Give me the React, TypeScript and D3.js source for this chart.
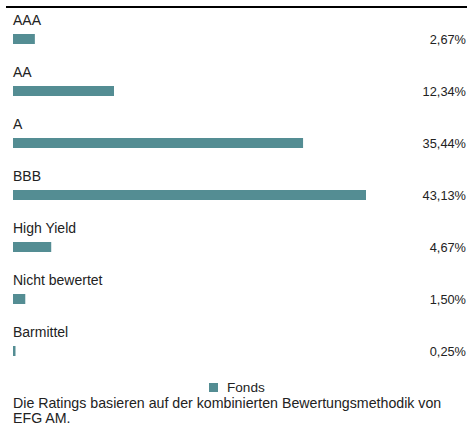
import React from "react";
import * as d3 from "d3";

const categories = ["AAA", "AA", "A", "BBB", "High Yield", "Nicht bewertet", "Barmittel"];
const values = [2.67, 12.34, 35.44, 43.13, 4.67, 1.5, 0.25];
const valueLabels = ["2,67%", "12,34%", "35,44%", "43,13%", "4,67%", "1,50%", "0,25%"];
const seriesName = "Fonds";
const footnote = ["Die Ratings basieren auf der kombinierten Bewertungsmethodik von", "EFG AM."];

const W = 468;
const H = 426;
const COLOR = "#548d93";
const FONT = "'Liberation Sans', Arial, Helvetica, sans-serif";
const TEXT = "#222";

export default function App() {
  const x = d3.scaleLinear().domain([0, 43.13]).range([13, 366]);
  const y = d3.scaleBand<string>().domain(categories).range([34 - 26, 34 - 26 + 52 * categories.length]);
  const barH = 10;
  return (
    <svg width={W} height={H} style={{ position: "absolute", left: 0, top: 0, background: "#fff" }} fontFamily={FONT}>
      <line x1={6} x2={467} y1={7} y2={7} stroke="#000" strokeWidth={2} />
      {categories.map((c, i) => {
        const top = (y(c) as number) + 26;
        const w = Math.max(x(values[i]) - x(0), 2.5);
        return (
          <g key={c}>
            <text x={13} y={top - 9} fontSize={14} fill={TEXT}>{c}</text>
            <rect x={x(0)} y={top} width={w} height={barH} fill={COLOR} />
            <text x={466} y={top + 9.5} fontSize={12.8} fill={TEXT} textAnchor="end">{valueLabels[i]}</text>
          </g>
        );
      })}
      <rect x={209} y={383} width={9} height={9} fill={COLOR} />
      <text x={227} y={392} fontSize={13.6} fill={TEXT}>{seriesName}</text>
      {footnote.map((t, i) => (
        <text key={i} x={13} y={408 + i * 15} fontSize={14.2} fill={TEXT}>{t}</text>
      ))}
    </svg>
  );
}
